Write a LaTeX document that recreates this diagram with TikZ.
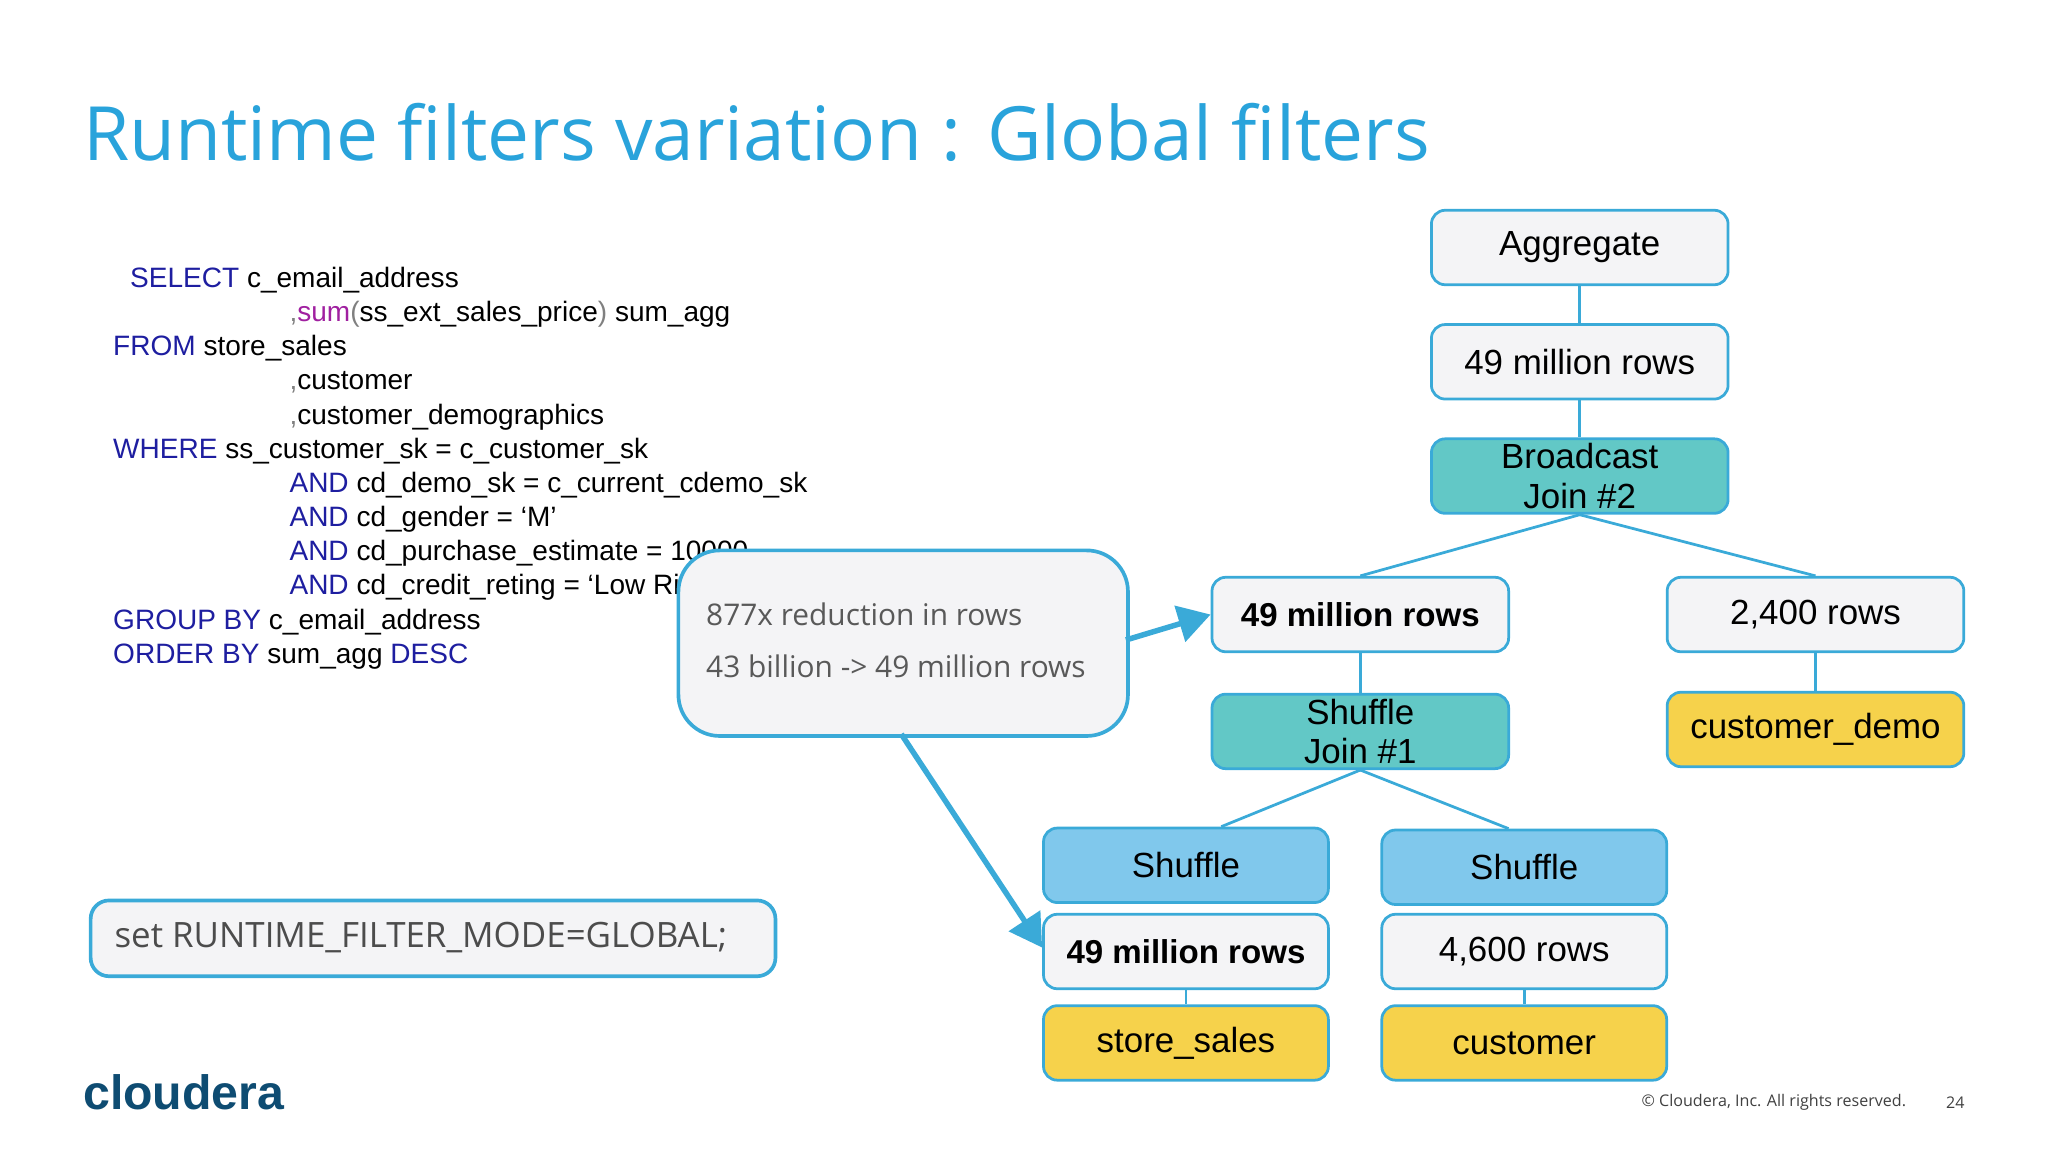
\documentclass[tikz,border=0pt]{standalone}
\usepackage{fontspec}
\setmainfont{Liberation Sans}
\newfontfamily\osans{Open Sans}
\usetikzlibrary{arrows.meta}
\definecolor{ttl}{HTML}{29A3DB}
\definecolor{bd}{HTML}{3AAAD8}
\definecolor{teal}{HTML}{62C8C6}
\definecolor{sky}{HTML}{80C8EC}
\definecolor{yel}{HTML}{F6D24B}
\definecolor{lg}{HTML}{F4F4F6}
\definecolor{kw}{HTML}{1E1EA0}
\definecolor{pur}{HTML}{A020A0}
\definecolor{logo}{HTML}{0E4C72}
\begin{document}
\begin{tikzpicture}[x=0.01cm,y=-0.01cm,
 box/.style={draw=bd,line width=0.6pt,rounded corners=3pt,minimum width=2.27cm,minimum height=0.57cm,inner sep=0pt,align=center,font=\fontsize{7.6}{8.6}\selectfont},
 bf/.style={font=\bfseries\fontsize{7.2}{8.6}\selectfont},
 sm/.style={box,minimum width=2.18cm},
 sql/.style={anchor=base west,inner sep=0pt,font=\fontsize{6.1}{7}\selectfont},
 ln/.style={bd,line width=0.6pt},
 arr/.style={bd,line width=1.2pt,-{Triangle[length=7pt,width=8pt]}}]
\useasboundingbox (0,0) rectangle (1568,882);
\node[anchor=base west,inner sep=0pt,text=ttl,font=\osans\fontsize{16.3}{20}\selectfont] (title) at (63,123) {Runtime filters variation : Global filters};
% SQL
\node[sql] (s1) at (99,220) {\textcolor{kw}{SELECT} c\_email\_address};
\node[sql] (s2) at (221,246) {\textcolor{gray}{,}\textcolor{pur}{sum}\textcolor{gray}{(}ss\_ext\_sales\_price\textcolor{gray}{)} sum\_agg};
\node[sql] (s3) at (86,272) {\textcolor{kw}{FROM} store\_sales};
\node[sql] (s4) at (221,298) {\textcolor{gray}{,}customer};
\node[sql] (s5) at (221,325) {\textcolor{gray}{,}customer\_demographics};
\node[sql] (s6) at (86,351) {\textcolor{kw}{WHERE} ss\_customer\_sk = c\_customer\_sk};
\node[sql] (s7) at (221,377) {\textcolor{kw}{AND} cd\_demo\_sk = c\_current\_cdemo\_sk};
\node[sql] (s8) at (221,403) {\textcolor{kw}{AND} cd\_gender = ‘M’};
\node[sql] (s9) at (221,429) {\textcolor{kw}{AND} cd\_purchase\_estimate = 10000};
\node[sql] (s10) at (221,455) {\textcolor{kw}{AND} cd\_credit\_reting = ‘Low Risk’};
\node[sql] (s11) at (86,482) {\textcolor{kw}{GROUP BY} c\_email\_address};
\node[sql] (s12) at (86,508) {\textcolor{kw}{ORDER BY} sum\_agg \textcolor{kw}{DESC}};
% tree
\node[box,fill=lg] (agg) at (1209.5,189.5) {Aggregate};
\node[box,fill=lg] (r1) at (1209.5,277) {49 million rows};
\node[box,fill=teal] (bj) at (1209.5,364.5) {Broadcast\\Join \#2};
\node[box,fill=lg,bf] (r2) at (1041.5,470.5) {49 million rows};
\node[box,fill=lg] (r3) at (1390,470.5) {2,400 rows};
\node[box,fill=teal] (sj) at (1041.5,560) {Shuffle\\Join \#1};
\node[box,fill=yel] (cd) at (1390,558.5) {customer\_demo};
\node[sm,fill=sky] (sh1) at (908,662.5) {Shuffle};
\node[sm,fill=sky] (sh2) at (1167,664) {Shuffle};
\node[sm,fill=lg,bf] (r4) at (908,728.5) {49 million rows};
\node[sm,fill=lg] (r5) at (1167,728.5) {4,600 rows};
\node[sm,fill=yel] (ss) at (908,798.5) {store\_sales};
\node[sm,fill=yel] (cu) at (1167,798.5) {customer};
\draw[ln] (agg) -- (r1); \draw[ln] (r1) -- (bj);
\draw[ln] (bj.south) -- (r2.north); \draw[ln] (bj.south) -- (r3.north);
\draw[ln] (r2) -- (sj); \draw[ln] (r3) -- (cd);
\draw[ln] (sj.south) -- ([xshift=0.27cm]sh1.north); \draw[ln] (sj.south) -- ([xshift=-0.12cm]sh2.north);
\draw[ln] (r4) -- (ss); \draw[ln] (r5) -- (cu);
% callout
\node[draw=bd,line width=0.8pt,fill=lg,rounded corners=9pt,minimum width=3.44cm,minimum height=1.42cm,anchor=north west,inner sep=0pt] (call) at (518,420) {};
\node[anchor=base west,inner sep=0pt,text=black!65,font=\osans\fontsize{6.5}{8}\selectfont] (c1) at (540,479) {877x reduction in rows};
\node[anchor=base west,inner sep=0pt,text=black!65,font=\osans\fontsize{6.5}{8}\selectfont] (c2) at (540,519) {43 billion -> 49 million rows};
\coordinate (a1) at (862,490);
\coordinate (a2) at (690,562);
\draw[arr] (a1) -- (r2.west);
\draw[arr] (a2) -- ([yshift=0.03cm]r4.west);
% set box
\node[draw=bd,line width=0.8pt,fill=lg,rounded corners=4pt,minimum width=5.24cm,minimum height=0.58cm,anchor=north west,inner sep=0pt] (setb) at (68,688) {};
\node[anchor=west,inner sep=0pt,text=black!70,font=\osans\fontsize{7.6}{9}\selectfont] (sett) at (87,718) {set RUNTIME\_FILTER\_MODE=GLOBAL;};
% footer
\node[anchor=west,inner sep=0pt,text=logo,font=\bfseries\fontsize{10.5}{12}\selectfont] (logo) at (63,836) {cloudera};
\node[anchor=east,inner sep=0pt,font=\osans\fontsize{3.5}{4}\selectfont,text=black!75] (copy) at (1460,844) {© Cloudera, Inc. All rights reserved.};
\node[anchor=center,inner sep=0pt,font=\osans\fontsize{3.5}{4}\selectfont,text=black!75] (pg) at (1497,844) {24};
\end{tikzpicture}
\end{document}
